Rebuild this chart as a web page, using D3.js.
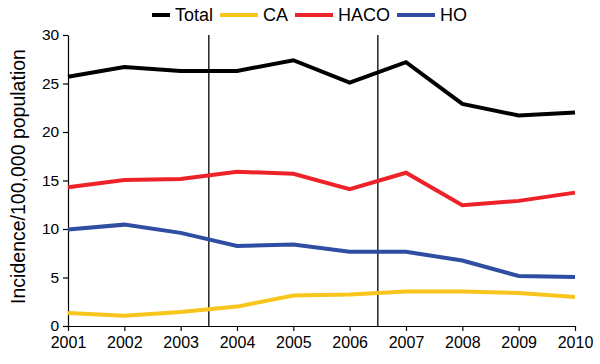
<!DOCTYPE html>
<html>
<head>
<meta charset="utf-8">
<script src="https://cdn.jsdelivr.net/npm/d3@7"></script>
<style>
  body { margin: 0; background: #fff; }
  text { font-family: "Liberation Sans", Arial, sans-serif; }
</style>
</head>
<body>
<div id="chart"></div>
<script>
// data
const years = [2001, 2002, 2003, 2004, 2005, 2006, 2007, 2008, 2009, 2010];
const total = [25.7, 26.7, 26.3, 26.3, 27.4, 25.1, 27.2, 22.9, 21.7, 22.0];
const ca    = [1.35, 1.05, 1.45, 2.0, 3.15, 3.25, 3.55, 3.55, 3.4, 3.0];
const haco  = [14.3, 15.05, 15.15, 15.9, 15.7, 14.1, 15.8, 12.45, 12.9, 13.75];
const ho    = [9.95, 10.45, 9.6, 8.25, 8.4, 7.65, 7.65, 6.75, 5.15, 5.05];
const yTicks = [0, 5, 10, 15, 20, 25, 30];
const dividers = [2003.5, 2006.5];

const series = [
  {name: "Total", values: total, color: "#000000"},
  {name: "CA", values: ca, color: "#f7c51c"},
  {name: "HACO", values: haco, color: "#ee2229"},
  {name: "HO", values: ho, color: "#2f4ea1"}
];

const W = 600, H = 364;
const margin = {top: 35, right: 25, bottom: 38, left: 68};
const width = W - margin.left - margin.right,
      height = H - margin.top - margin.bottom;

const svg = d3.select("#chart")
  .append("svg")
    .attr("width", W)
    .attr("height", H)
  .append("g")
    .attr("transform", `translate(${margin.left}, ${margin.top})`);

const x = d3.scaleLinear()
  .domain([2001, 2010])
  .range([0, width]);

const y = d3.scaleLinear()
  .domain([0, 30])
  .range([height, 0]);

// axes
const xAxis = svg.append("g")
  .attr("transform", `translate(0, ${height})`)
  .call(d3.axisBottom(x).tickValues(years).tickFormat(d3.format("d")).tickSize(5).tickSizeOuter(0));
xAxis.selectAll("text").attr("font-size", 16).attr("dy", "0.85em").attr("fill", "#000");

const yAxis = svg.append("g")
  .call(d3.axisLeft(y).tickValues(yTicks).tickSize(5).tickSizeOuter(0));
yAxis.selectAll("text").attr("font-size", 15.5).attr("dx", "-0.05em").attr("fill", "#000");

svg.selectAll(".domain, .tick line").attr("stroke", "#000").attr("stroke-width", 1.2);

// y label
svg.append("text")
  .attr("transform", "rotate(-90)")
  .attr("x", -(height / 2 - 4))
  .attr("y", -43)
  .attr("text-anchor", "middle")
  .attr("font-size", 19.5)
  .text("Incidence/100,000 population");

// divider lines
svg.selectAll(".divider")
  .data(dividers)
  .enter()
  .append("line")
    .attr("x1", d => x(d))
    .attr("x2", d => x(d))
    .attr("y1", 0)
    .attr("y2", height)
    .attr("stroke", "#000")
    .attr("stroke-width", 1.3);

// lines
const line = d3.line()
  .x((d, i) => x(years[i]))
  .y(d => y(d));

svg.selectAll(".series")
  .data(series)
  .enter()
  .append("path")
    .attr("fill", "none")
    .attr("stroke", d => d.color)
    .attr("stroke-width", 4)
    .attr("stroke-linejoin", "miter")
    .attr("d", d => line(d.values));

// legend
const legendX = [150, 220, 295, 397];
const legend = d3.select("svg").append("g");
series.forEach((s, i) => {
  legend.append("line")
    .attr("x1", legendX[i])
    .attr("x2", legendX[i] + 38)
    .attr("y1", 15)
    .attr("y2", 15)
    .attr("stroke", s.color)
    .attr("stroke-width", 4);
  legend.append("text")
    .attr("x", legendX[i] + 43)
    .attr("y", 21)
    .attr("font-size", 18)
    .text(s.name);
});
legend.select("line").attr("x1", 152).attr("x2", 170);
legend.select("text").attr("x", 175);
</script>
</body>
</html>
